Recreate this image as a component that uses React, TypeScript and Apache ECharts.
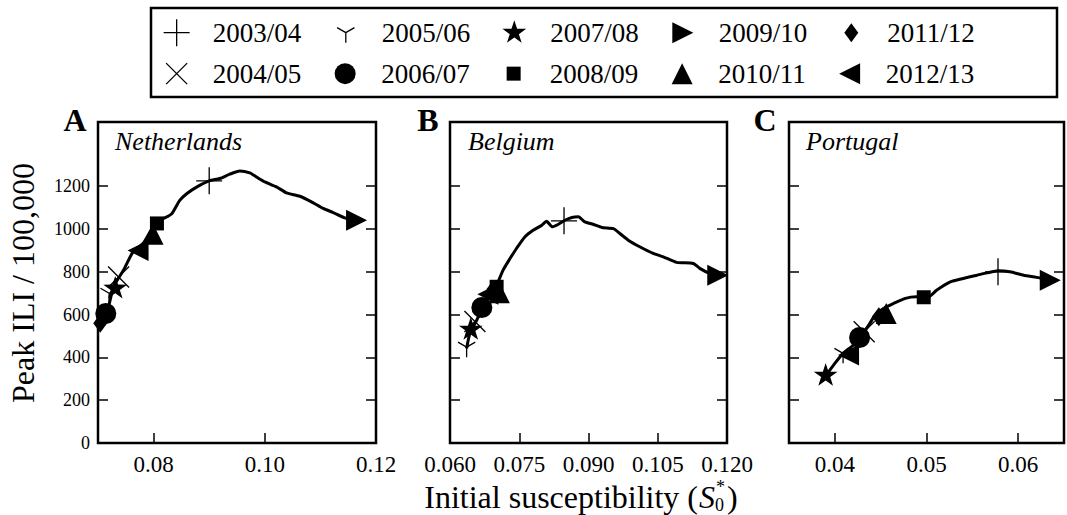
import React, { useEffect, useRef } from "react";
import * as echarts from "echarts";

// ---------- DATA ----------
const seasons = [
  "2003/04", "2004/05", "2005/06", "2006/07", "2007/08",
  "2008/09", "2009/10", "2010/11", "2011/12", "2012/13",
];

// Netherlands (panel A) curve
const nlCurveX = [0.0704, 0.0716, 0.0728, 0.0746, 0.0763, 0.0781, 0.0797, 0.0806, 0.0824, 0.0833, 0.0847, 0.0860, 0.0878, 0.0900, 0.0919, 0.0937, 0.0955, 0.0973, 0.0985, 0.1000, 0.1021, 0.1039, 0.1063, 0.1084, 0.1105, 0.1123, 0.1144, 0.1165];
const nlCurveY = [543, 605, 730, 808, 893, 932, 1002, 1033, 1057, 1072, 1134, 1166, 1197, 1225, 1236, 1256, 1271, 1262, 1243, 1220, 1197, 1169, 1153, 1127, 1096, 1077, 1052, 1041];
// Netherlands season markers (in seasons order)
const nlMarkX = [0.0900, 0.0737, 0.0720, 0.0714, 0.0731, 0.0806, 0.1165, 0.0799, 0.0704, 0.0772];
const nlMarkY = [1225, 776, 700, 605, 722, 1026, 1041, 975, 560, 900];

// Belgium (panel B) curve
const beCurveX = [0.0636, 0.0643, 0.0658, 0.0669, 0.0687, 0.0701, 0.0715, 0.0730, 0.0744, 0.0762, 0.0780, 0.0799, 0.0809, 0.0822, 0.0835, 0.0849, 0.0864, 0.0878, 0.0892, 0.0910, 0.0929, 0.0954, 0.0968, 0.0986, 0.1012, 0.1040, 0.1062, 0.1091, 0.1127, 0.1141, 0.1163, 0.1180];
const beCurveY = [442, 512, 574, 629, 691, 738, 808, 862, 909, 963, 994, 1018, 1036, 1010, 1022, 1041, 1054, 1057, 1033, 1022, 1007, 1002, 979, 948, 916, 886, 870, 844, 839, 816, 792, 784];
const beMarkX = [0.0847, 0.0654, 0.0636, 0.0669, 0.0645, 0.0701, 0.1180, 0.0707, 0.0694, 0.0682];
const beMarkY = [1038, 568, 448, 633, 530, 730, 784, 702, 718, 695];

// Portugal (panel C) curve
const ptCurveX = [0.0390, 0.0400, 0.0409, 0.0420, 0.0429, 0.0437, 0.0444, 0.0453, 0.0464, 0.0477, 0.0489, 0.0502, 0.0511, 0.0526, 0.0540, 0.0555, 0.0566, 0.0578, 0.0591, 0.0606, 0.0620, 0.0635];
const ptCurveY = [313, 372, 419, 457, 504, 551, 598, 629, 652, 676, 683, 683, 714, 753, 769, 784, 795, 805, 800, 784, 774, 761];
const ptMarkX = [0.0578, 0.0432, 0.0409, 0.0427, 0.0390, 0.0497, 0.0635, 0.0456, 0.0448, 0.0415];
const ptMarkY = [800, 520, 419, 493, 315, 681, 761, 605, 590, 411];

// Tick labels
const yTicks = [0, 200, 400, 600, 800, 1000, 1200];
const nlXTicks = [0.08, 0.1, 0.12];
const beXTicks = [0.06, 0.075, 0.09, 0.105, 0.12];
const ptXTicks = [0.04, 0.05, 0.06];

// ---------- STYLE ----------
const FONT = "Liberation Serif";
const PAD = "M-14 -14 M14 14 ";
const starD = (() => {
  let d = "";
  for (let i = 0; i < 10; i++) {
    const a = -Math.PI / 2 + (i * Math.PI) / 5;
    const r = i % 2 ? 4.8 : 12.5;
    d += (i ? "L" : "M") + (r * Math.cos(a)).toFixed(2) + " " + (r * Math.sin(a)).toFixed(2) + " ";
  }
  return d + "Z";
})();
const markerDefs = [
  { d: "M-13 0 L13 0 M0 -13.5 L0 13.5", stroke: true },
  { d: "M-10.5 -10.5 L10.5 10.5 M-10.5 10.5 L10.5 -10.5", stroke: true },
  { d: "M0 0 L0 10 M0 0 L-8.66 -5 M0 0 L8.66 -5", stroke: true },
  { d: "M-10.5 0 A10.5 10.5 0 1 1 10.5 0 A10.5 10.5 0 1 1 -10.5 0 Z", stroke: false },
  { d: starD, stroke: false },
  { d: "M-7 -7 L7 -7 L7 7 L-7 7 Z", stroke: false },
  { d: "M10.5 0 L-10.5 -10.5 L-10.5 10.5 Z", stroke: false },
  { d: "M0 -10.5 L10.5 10.5 L-10.5 10.5 Z", stroke: false },
  { d: "M0 -9.5 L7 0 L0 9.5 L-7 0 Z", stroke: false },
  { d: "M-10.5 0 L10.5 -10.5 L10.5 10.5 Z", stroke: false },
];
const itemStyleFor = (i: number) =>
  markerDefs[i].stroke
    ? { color: "transparent", borderColor: "#000", borderWidth: 1.3, opacity: 1 }
    : { color: "#000", borderColor: "#000", borderWidth: 0, opacity: 1 };

const panels = [
  { left: 98, width: 278, min: 0.07, max: 0.12, ticks: nlXTicks, dec: 2, cx: nlCurveX, cy: nlCurveY, mx: nlMarkX, my: nlMarkY, showY: true },
  { left: 450, width: 277, min: 0.06, max: 0.12, ticks: beXTicks, dec: 3, cx: beCurveX, cy: beCurveY, mx: beMarkX, my: beMarkY, showY: false },
  { left: 789, width: 275, min: 0.035, max: 0.065, ticks: ptXTicks, dec: 2, cx: ptCurveX, cy: ptCurveY, mx: ptMarkX, my: ptMarkY, showY: false },
];

function buildOption() {
  const grid: any[] = [];
  const xAxis: any[] = [];
  const yAxis: any[] = [];
  const series: any[] = [];
  panels.forEach((p, k) => {
    grid.push({ left: p.left, top: 122, width: p.width, height: 321, show: true, borderColor: "#000", borderWidth: 2.5, backgroundColor: "transparent" });
    xAxis.push({
      type: "value", gridIndex: k, min: p.min, max: p.max,
      axisLine: { show: false }, splitLine: { show: false },
      axisTick: { show: true, inside: true, length: 10, customValues: p.ticks, lineStyle: { color: "#000", width: 1.5 } },
      axisLabel: { show: true, customValues: p.ticks, margin: 10, formatter: (v: number) => v.toFixed(p.dec), fontFamily: FONT, fontSize: 23, color: "#000" },
    });
    for (const pos of ["left", "right"]) {
      yAxis.push({
        type: "value", gridIndex: k, position: pos, min: 0, max: 1500,
        axisLine: { show: false }, splitLine: { show: false },
        axisTick: { show: true, inside: true, length: 10, customValues: yTicks, lineStyle: { color: "#000", width: 1.5 } },
        axisLabel: { show: pos === "left" && p.showY, customValues: yTicks, margin: 8, formatter: (v: number) => String(v), fontFamily: FONT, fontSize: 18, color: "#000" },
      });
    }
    series.push({
      type: "line", name: "curve" + k, xAxisIndex: k, yAxisIndex: 2 * k,
      data: p.cx.map((x, i) => [x, p.cy[i]]),
      showSymbol: false, smooth: 0.2, z: 2,
      lineStyle: { color: "#000", width: 3 },
    });
    seasons.forEach((s, i) => {
      series.push({
        type: "scatter", name: s, xAxisIndex: k, yAxisIndex: 2 * k,
        data: [[p.mx[i], p.my[i]]],
        symbol: "path://" + PAD + markerDefs[i].d, symbolSize: 28, z: 3,
        itemStyle: itemStyleFor(i),
      });
    });
  });

  const legendRow = (idx: number[], top: number) => ({
    data: idx.map((i) => ({ name: seasons[i], itemStyle: itemStyleFor(i) })),
    left: 162, top, orient: "horizontal", itemWidth: 62, itemHeight: 28, itemGap: 30,
    padding: 0, selectedMode: false,
    textStyle: { fontFamily: FONT, fontSize: 27, color: "#000" },
  });

  const txt = (text: string, x: number, y: number, extra: any = {}) => ({
    type: "text", x, y, silent: true,
    style: { text, fill: "#000", fontFamily: FONT, fontSize: 26, align: "left", verticalAlign: "middle", ...extra },
  });

  const graphic = [
    { type: "rect", shape: { x: 151, y: 8, width: 906, height: 89 }, style: { fill: "none", stroke: "#000", lineWidth: 2.5 }, silent: true },
    txt("A", 75, 120, { fontWeight: "bold", fontSize: 32, align: "center" }),
    txt("B", 428, 120, { fontWeight: "bold", fontSize: 32, align: "center" }),
    txt("C", 765, 120, { fontWeight: "bold", fontSize: 32, align: "center" }),
    txt("Netherlands", 115, 141, { fontStyle: "italic" }),
    txt("Belgium", 468, 141, { fontStyle: "italic" }),
    txt("Portugal", 806, 141, { fontStyle: "italic" }),
    { ...txt("Peak ILI / 100,000", 23, 283, { fontSize: 32, align: "center" }), rotation: Math.PI / 2 },
    txt("Initial susceptibility (", 698, 497, { fontSize: 32, align: "right" }),
    txt("S", 699, 497, { fontSize: 32, fontStyle: "italic" }),
    txt("*", 716, 487, { fontSize: 18 }),
    txt("0", 715, 505, { fontSize: 18 }),
    txt(")", 727, 497, { fontSize: 32 }),
  ];

  return {
    animation: false,
    backgroundColor: "#fff",
    grid, xAxis, yAxis, series,
    legend: [legendRow([0, 2, 4, 6, 8], 18), legendRow([1, 3, 5, 7, 9], 59)],
    graphic: { elements: graphic },
  };
}

export default function App() {
  const ref = useRef<HTMLDivElement>(null);
  useEffect(() => {
    if (!ref.current) return;
    const chart = echarts.init(ref.current, undefined, { renderer: "svg" });
    chart.setOption(buildOption() as any);
    return () => chart.dispose();
  }, []);
  return <div ref={ref} style={{ position: "absolute", left: 0, top: 0, width: 1067, height: 515 }} />;
}
